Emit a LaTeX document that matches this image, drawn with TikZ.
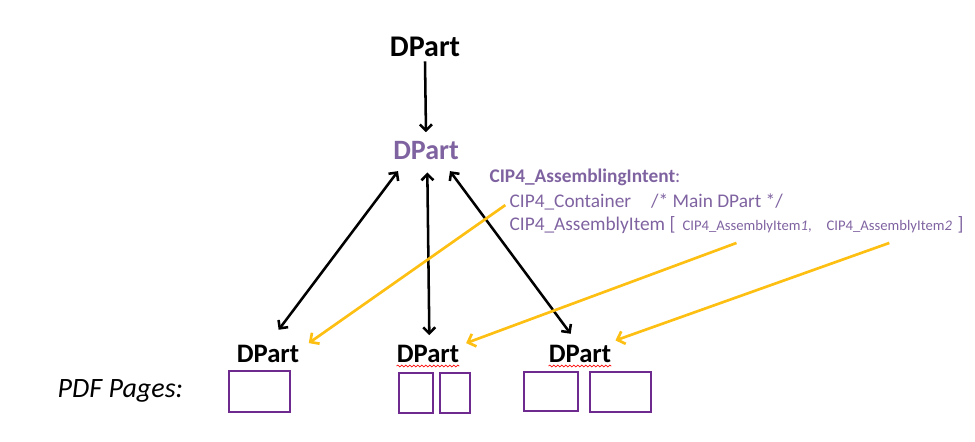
\documentclass[tikz,border=0pt]{standalone}
\usepackage{fontspec}
\setmainfont{Carlito}
\usepackage{tikz}
\usetikzlibrary{arrows.meta, positioning, decorations.pathmorphing}
\definecolor{jdfpurple}{HTML}{7F63A1}
\definecolor{hintgold}{HTML}{FDBF12}
\definecolor{pageviolet}{HTML}{6F2A90}

\begin{document}
\begin{tikzpicture}[x=0.75pt, y=-0.75pt,
  dpart/.style={font=\fontsize{21}{24}\selectfont\bfseries, anchor=base, inner sep=3pt},
  dbl/.style={{Straight Barb[length=4.5pt,width=9pt]}-{Straight Barb[length=4.5pt,width=9pt]}, line width=1.9pt},
  hint/.style={-{Straight Barb[length=5pt,width=10pt]}, hintgold, line width=2pt},
  intent/.style={text=jdfpurple, anchor=base west, inner sep=1pt, font=\fontsize{14.5}{17}\selectfont},
  page/.style={draw=pageviolet, line width=1.6pt},
  squiggle/.style={red, line width=0.5pt, decorate, decoration={snake, amplitude=0.7pt, segment length=3pt}}]
  \useasboundingbox (0,0) rectangle (975,442);
  % DParts
  \node[dpart, font=\fontsize{22.5}{26}\selectfont\bfseries] (dpTop) at (425,57) {DPart};
  \node[dpart, text=jdfpurple] (dpMain) at (426,160) {DPart};
  \node[dpart, font=\fontsize{20}{24}\selectfont\bfseries] (dpA) at (268,362) {DPart};
  \node[dpart, font=\fontsize{20}{24}\selectfont\bfseries] (dpB) at (428,362) {DPart};
  \node[dpart, font=\fontsize{20}{24}\selectfont\bfseries] (dpC) at (580,362) {DPart};
  \draw[squiggle] ([xshift=3pt,yshift=-3pt]dpB.base west) -- ([xshift=-3pt,yshift=-3pt]dpB.base east);
  \draw[squiggle] ([xshift=3pt,yshift=-3pt]dpC.base west) -- ([xshift=-3pt,yshift=-3pt]dpC.base east);
  \draw[-{Straight Barb[length=4.5pt,width=9pt]}, line width=1.9pt] (dpTop.south) -- ([yshift=4pt]dpMain.north);
  \draw[dbl] ([xshift=-21pt,yshift=-5pt]dpMain.south) -- ([xshift=8pt,yshift=8pt]dpA.north);
  \draw[dbl] ([xshift=1pt,yshift=-6pt]dpMain.south) -- ([xshift=1pt,yshift=4pt]dpB.north);
  \draw[dbl] ([xshift=18pt,yshift=-5pt]dpMain.south) -- ([xshift=-7pt,yshift=5pt]dpC.north);
  % assembling intent
  \node[intent, font=\fontsize{14.5}{17}\selectfont\bfseries] (intent) at (488,183) {CIP4\_AssemblingIntent\textmd{:}};
  \node[intent] (container) at (508,208) {CIP4\_Container\hspace{15pt}/* Main DPart */};
  \node[intent] (items) at (508,231) {CIP4\_AssemblyItem [};
  \node[intent, font=\fontsize{11}{13}\selectfont] (itemOne) at (681,231) {CIP4\_AssemblyItem\textit{1},};
  \node[intent, font=\fontsize{11}{13}\selectfont] (itemTwo) at (825,231) {CIP4\_AssemblyItem\textit{2}};
  \node[intent] (itemsEnd) at (956,231) {]};
  \draw[hint] ([xshift=-2pt,yshift=-2pt]container.west) -- ([xshift=4pt,yshift=-2pt]dpA.north east);
  \draw[hint] ([xshift=-8pt,yshift=-6pt]itemOne.south) -- ([xshift=2pt,yshift=-2pt]dpB.north east);
  \draw[hint] ([yshift=-6pt]itemTwo.south) -- (dpC.north east);
  % pages
  \node[anchor=base west, font=\fontsize{21}{24}\selectfont\itshape] (pdfPages) at (53,397) {PDF Pages:};
  \draw[page] (229,371) rectangle (290,412);
  \draw[page] (399,373) rectangle (433,413);
  \draw[page] (440,373) rectangle (470,413);
  \draw[page] (524,372) rectangle (578,411);
  \draw[page] (590,372) rectangle (651,412);
\end{tikzpicture}
\end{document}
